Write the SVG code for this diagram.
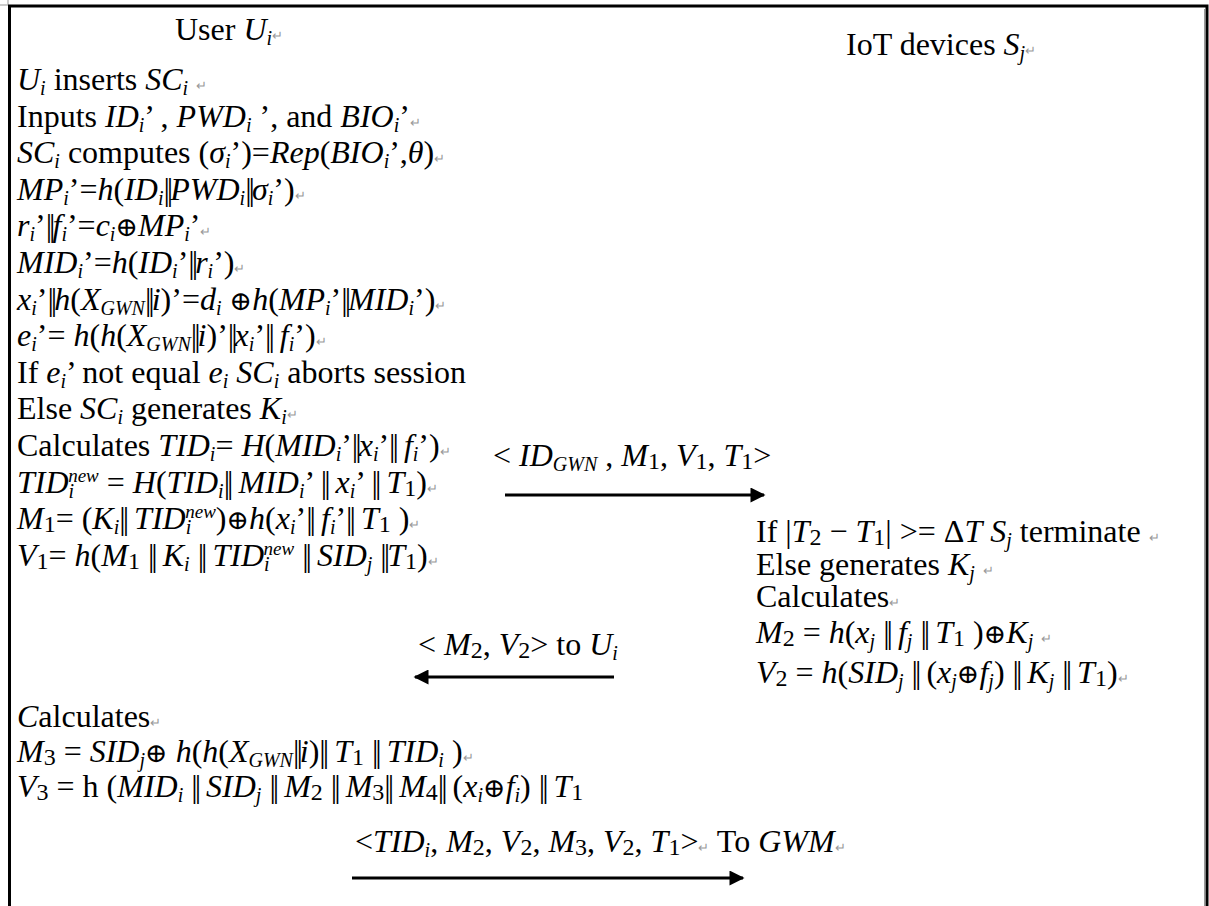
<svg xmlns="http://www.w3.org/2000/svg" width="1209" height="906" viewBox="0 0 1209 906">
<style>
text{font-family:"Liberation Serif","Times New Roman",serif;font-size:32px;fill:#000}
.i{font-style:italic}
.b{font-size:20px;baseline-shift:-4.5px}
.n{font-size:24px;baseline-shift:-3px}
.p{font-size:19px;baseline-shift:11px}
.d{letter-spacing:-3px;font-style:normal}
.o{font-family:"DejaVu Serif",serif;font-size:27px;font-style:normal}
.m{fill:#999;font-size:13px;font-style:normal}
.ln{stroke:#000;stroke-width:3;fill:none}
</style>
<defs>
<marker id="ah" viewBox="0 0 10 10" refX="9" refY="5" markerWidth="6" markerHeight="5" markerUnits="strokeWidth" orient="auto">
<path d="M0,0 L10,5 L0,10 Z" fill="#000"/>
</marker>
</defs>
<rect width="1209" height="906" fill="#fff"/>
<g id="frame">
<path d="M0,5 H8 V0" stroke="#bbb" stroke-width="1.5" fill="none"/>
<path d="M9.5,906 V6 H1207 V906" class="ln"/>
<path d="M1204.5,9 V906" stroke="#999" stroke-width="1" fill="none"/>
</g>
<g id="user">
<text x="175" y="40">User <tspan class="i">U</tspan><tspan class="b i">i</tspan><tspan class="m">↵</tspan></text>
<text x="17" y="90"><tspan class="i">U</tspan><tspan class="b i">i</tspan> inserts <tspan class="i">SC</tspan><tspan class="b i">i</tspan> <tspan class="m">↵</tspan></text>
<text x="17" y="127">Inputs <tspan class="i">ID</tspan><tspan class="b i">i</tspan>’ , <tspan class="i">PWD</tspan><tspan class="b i">i</tspan> ’, and <tspan class="i">BIO</tspan><tspan class="b i">i</tspan>’<tspan class="m">↵</tspan></text>
<text x="17" y="163"><tspan class="i">SC</tspan><tspan class="b i">i</tspan> computes (<tspan class="i">σ</tspan><tspan class="b i">i</tspan>’)=<tspan class="i">Rep</tspan>(<tspan class="i">BIO</tspan><tspan class="b i">i</tspan>’,<tspan class="i">θ</tspan>)<tspan class="m">↵</tspan></text>
<text x="17" y="200"><tspan class="i">MP</tspan><tspan class="b i">i</tspan>’=<tspan class="i">h</tspan>(<tspan class="i">ID</tspan><tspan class="b i">i</tspan><tspan class="d">||</tspan><tspan class="i">PWD</tspan><tspan class="b i">i</tspan><tspan class="d">||</tspan><tspan class="i">σ</tspan><tspan class="b i">i</tspan>’)<tspan class="m">↵</tspan></text>
<text x="17" y="236"><tspan class="i">r</tspan><tspan class="b i">i</tspan>’<tspan class="d">||</tspan><tspan class="i">f</tspan><tspan class="b i">i</tspan>’=<tspan class="i">c</tspan><tspan class="b i">i</tspan><tspan class="o">⊕</tspan><tspan class="i">MP</tspan><tspan class="b i">i</tspan>’<tspan class="m">↵</tspan></text>
<text x="17" y="273"><tspan class="i">MID</tspan><tspan class="b i">i</tspan>’=<tspan class="i">h</tspan>(<tspan class="i">ID</tspan><tspan class="b i">i</tspan>’<tspan class="d">||</tspan><tspan class="i">r</tspan><tspan class="b i">i</tspan>’)<tspan class="m">↵</tspan></text>
<text x="17" y="310"><tspan class="i">x</tspan><tspan class="b i">i</tspan>’<tspan class="d">||</tspan><tspan class="i">h</tspan>(<tspan class="i">X</tspan><tspan class="b i">GWN</tspan><tspan class="d">||</tspan><tspan class="i">i</tspan>)’=<tspan class="i">d</tspan><tspan class="b i">i</tspan> <tspan class="o">⊕</tspan><tspan class="i">h</tspan>(<tspan class="i">MP</tspan><tspan class="b i">i</tspan>’<tspan class="d">||</tspan><tspan class="i">MID</tspan><tspan class="b i">i</tspan>’)<tspan class="m">↵</tspan></text>
<text x="17" y="346"><tspan class="i">e</tspan><tspan class="b i">i</tspan>’= <tspan class="i">h</tspan>(<tspan class="i">h</tspan>(<tspan class="i">X</tspan><tspan class="b i">GWN</tspan><tspan class="d">||</tspan><tspan class="i">i</tspan>)’<tspan class="d">||</tspan><tspan class="i">x</tspan><tspan class="b i">i</tspan>’<tspan class="d">||</tspan> <tspan class="i">f</tspan><tspan class="b i">i</tspan>’)<tspan class="m">↵</tspan></text>
<text x="17" y="383">If <tspan class="i">e</tspan><tspan class="b i">i</tspan>’ not equal <tspan class="i">e</tspan><tspan class="b i">i</tspan> <tspan class="i">SC</tspan><tspan class="b i">i</tspan> aborts session</text>
<text x="17" y="419">Else <tspan class="i">SC</tspan><tspan class="b i">i</tspan> generates <tspan class="i">K</tspan><tspan class="b i">i</tspan><tspan class="m">↵</tspan></text>
<text x="17" y="456">Calculates <tspan class="i">TID</tspan><tspan class="b i">i</tspan>= <tspan class="i">H</tspan>(<tspan class="i">MID</tspan><tspan class="b i">i</tspan>’<tspan class="d">||</tspan><tspan class="i">x</tspan><tspan class="b i">i</tspan>’<tspan class="d">||</tspan> <tspan class="i">f</tspan><tspan class="b i">i</tspan>’)<tspan class="m">↵</tspan></text>
<text x="17" y="493"><tspan class="i">TID</tspan><tspan class="b i">i</tspan><tspan class="p i" dx="-6">new</tspan> = <tspan class="i">H</tspan>(<tspan class="i">TID</tspan><tspan class="b i">i</tspan><tspan class="d">||</tspan> <tspan class="i">MID</tspan><tspan class="b i">i</tspan>’ <tspan class="d">||</tspan> <tspan class="i">x</tspan><tspan class="b i">i</tspan>’ <tspan class="d">||</tspan> <tspan class="i">T</tspan><tspan class="n">1</tspan>)<tspan class="m">↵</tspan></text>
<text x="17" y="529"><tspan class="i">M</tspan><tspan class="n">1</tspan>= (<tspan class="i">K</tspan><tspan class="b i">i</tspan><tspan class="d">||</tspan> <tspan class="i">TID</tspan><tspan class="b i">i</tspan><tspan class="p i" dx="-6">new</tspan>)<tspan class="o">⊕</tspan><tspan class="i">h</tspan>(<tspan class="i">x</tspan><tspan class="b i">i</tspan>’<tspan class="d">||</tspan> <tspan class="i">f</tspan><tspan class="b i">i</tspan>’<tspan class="d">||</tspan> <tspan class="i">T</tspan><tspan class="n">1</tspan> )<tspan class="m">↵</tspan></text>
<text x="17" y="566"><tspan class="i">V</tspan><tspan class="n">1</tspan>= <tspan class="i">h</tspan>(<tspan class="i">M</tspan><tspan class="n">1</tspan> <tspan class="d">||</tspan> <tspan class="i">K</tspan><tspan class="b i">i</tspan> <tspan class="d">||</tspan> <tspan class="i">TID</tspan><tspan class="b i">i</tspan><tspan class="p i" dx="-6">new</tspan> <tspan class="d">||</tspan> <tspan class="i">SID</tspan><tspan class="b i">j</tspan> <tspan class="d">||</tspan><tspan class="i">T</tspan><tspan class="n">1</tspan>)<tspan class="m">↵</tspan></text>
<text x="17" y="727"><tspan class="i">C</tspan>alculates<tspan class="m">↵</tspan></text>
<text x="17" y="762"><tspan class="i">M</tspan><tspan class="n">3</tspan> = <tspan class="i">SID</tspan><tspan class="b i">j</tspan><tspan class="o">⊕</tspan> <tspan class="i">h</tspan>(<tspan class="i">h</tspan>(<tspan class="i">X</tspan><tspan class="b i">GWN</tspan><tspan class="d">||</tspan><tspan class="i">i</tspan>)<tspan class="d">||</tspan> <tspan class="i">T</tspan><tspan class="n">1</tspan> <tspan class="d">||</tspan> <tspan class="i">TID</tspan><tspan class="b i">i</tspan> )<tspan class="m">↵</tspan></text>
<text x="17" y="797"><tspan class="i">V</tspan><tspan class="n">3</tspan> = h (<tspan class="i">MID</tspan><tspan class="b i">i</tspan> <tspan class="d">||</tspan> <tspan class="i">SID</tspan><tspan class="b i">j</tspan> <tspan class="d">||</tspan> <tspan class="i">M</tspan><tspan class="n">2</tspan> <tspan class="d">||</tspan> <tspan class="i">M</tspan><tspan class="n">3</tspan><tspan class="d">||</tspan> <tspan class="i">M</tspan><tspan class="n">4</tspan><tspan class="d">||</tspan> (<tspan class="i">x</tspan><tspan class="b i">i</tspan><tspan class="o">⊕</tspan><tspan class="i">f</tspan><tspan class="b i">i</tspan>) <tspan class="d">||</tspan> <tspan class="i">T</tspan><tspan class="n">1</tspan></text>
</g>
<g id="iot">
<text x="846" y="55">IoT devices <tspan class="i">S</tspan><tspan class="b i">j</tspan><tspan class="m">↵</tspan></text>
<text x="756" y="542">If |<tspan class="i">T</tspan><tspan class="n">2</tspan> − <tspan class="i">T</tspan><tspan class="n">1</tspan>| &gt;= Δ<tspan class="i">T</tspan> <tspan class="i">S</tspan><tspan class="b i">j</tspan> terminate <tspan class="m">↵</tspan></text>
<text x="756" y="575">Else generates <tspan class="i">K</tspan><tspan class="b i">j</tspan> <tspan class="m">↵</tspan></text>
<text x="756" y="607">Calculates<tspan class="m">↵</tspan></text>
<text x="756" y="643"><tspan class="i">M</tspan><tspan class="n">2</tspan> = <tspan class="i">h</tspan>(<tspan class="i">x</tspan><tspan class="b i">j</tspan> <tspan class="d">||</tspan> <tspan class="i">f</tspan><tspan class="b i">j</tspan> <tspan class="d">||</tspan> <tspan class="i">T</tspan><tspan class="n">1</tspan> )<tspan class="o">⊕</tspan><tspan class="i">K</tspan><tspan class="b i">j</tspan> <tspan class="m">↵</tspan></text>
<text x="756" y="683"><tspan class="i">V</tspan><tspan class="n">2</tspan> = <tspan class="i">h</tspan>(<tspan class="i">SID</tspan><tspan class="b i">j</tspan> <tspan class="d">||</tspan> (<tspan class="i">x</tspan><tspan class="b i">j</tspan><tspan class="o">⊕</tspan><tspan class="i">f</tspan><tspan class="b i">j</tspan>) <tspan class="d">||</tspan> <tspan class="i">K</tspan><tspan class="b i">j</tspan> <tspan class="d">||</tspan> <tspan class="i">T</tspan><tspan class="n">1</tspan>)<tspan class="m">↵</tspan></text>
</g>
<g id="messages">
<text x="493" y="466">&lt; <tspan class="i">ID</tspan><tspan class="b i">GWN</tspan> , <tspan class="i">M</tspan><tspan class="n">1</tspan>, <tspan class="i">V</tspan><tspan class="n">1</tspan>, <tspan class="i">T</tspan><tspan class="n">1</tspan>&gt;</text>
<text x="418" y="655">&lt; <tspan class="i">M</tspan><tspan class="n">2</tspan>, <tspan class="i">V</tspan><tspan class="n">2</tspan>&gt; to <tspan class="i">U</tspan><tspan class="b i">i</tspan></text>
<text x="355" y="852">&lt;<tspan class="i">TID</tspan><tspan class="b i">i</tspan>, <tspan class="i">M</tspan><tspan class="n">2</tspan>, <tspan class="i">V</tspan><tspan class="n">2</tspan>, <tspan class="i">M</tspan><tspan class="n">3</tspan>, <tspan class="i">V</tspan><tspan class="n">2</tspan>, <tspan class="i">T</tspan><tspan class="n">1</tspan>&gt;<tspan class="m">↵</tspan>  To <tspan class="i">GWM</tspan><tspan class="m">↵</tspan></text>
</g>
<g id="connectors">
<line x1="505" y1="495" x2="764" y2="495" class="ln" marker-end="url(#ah)"/>
<line x1="614" y1="677" x2="415" y2="677" class="ln" marker-end="url(#ah)"/>
<line x1="352" y1="878" x2="743" y2="878" class="ln" marker-end="url(#ah)"/>
</g>
</svg>
